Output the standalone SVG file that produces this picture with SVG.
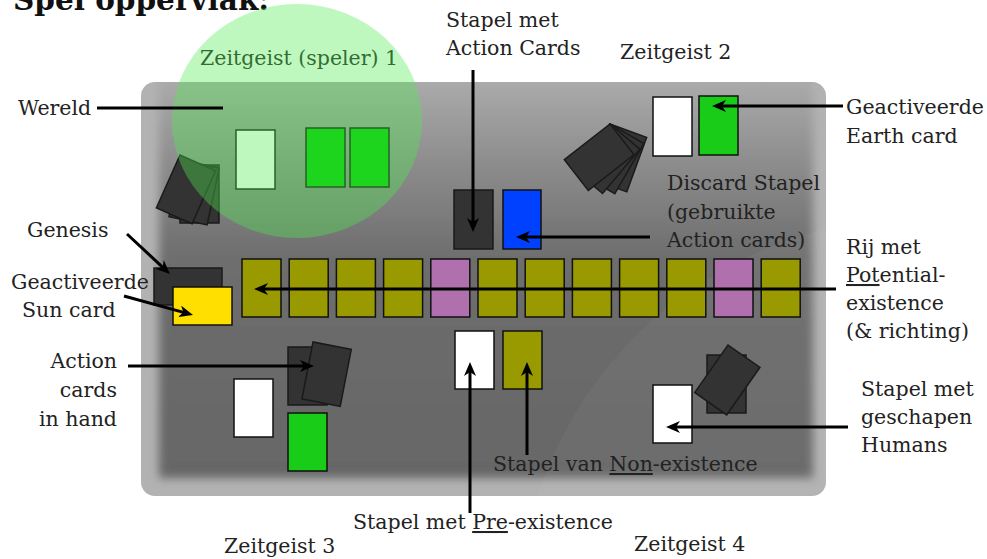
<svg xmlns="http://www.w3.org/2000/svg" width="987" height="559" viewBox="0 0 987 559">
<defs>
<style>
.t{font-family:"DejaVu Serif","Liberation Serif",serif;font-size:20.5px;fill:#222}
.title{font-family:"DejaVu Serif","Liberation Serif",serif;font-size:29.5px;font-weight:bold;fill:#111}
.card{stroke:#111;stroke-width:1.5}
.dark{fill:#333;stroke:#1a1a1a;stroke-width:1.5}
.white{fill:#fff}
.green{fill:#18cc18}
.olive{fill:#999900}
.pink{fill:#b070ad}
.conn{stroke:#000;stroke-width:3;fill:none}
.arr{marker-end:url(#ah)}
</style>
<marker id="ah" markerUnits="userSpaceOnUse" markerWidth="14" markerHeight="12" viewBox="0 0 14 12" refX="6" refY="6" orient="auto"><path d="M0,0 L14,6 L0,12 L4,6 z" fill="#000"/></marker>
<linearGradient id="gIn" x1="0" y1="82" x2="0" y2="496" gradientUnits="userSpaceOnUse">
<stop offset="0" stop-color="#aaaaaa"/>
<stop offset="0.2" stop-color="#8c8c8c"/>
<stop offset="0.42" stop-color="#6e6e6e"/>
<stop offset="1" stop-color="#656565"/>
</linearGradient>
<filter id="blur" x="-5%" y="-5%" width="110%" height="110%"><feGaussianBlur stdDeviation="5"/></filter>
<clipPath id="boardClip"><rect x="141" y="82" width="685" height="414" rx="14"/></clipPath>
</defs>

<text class="title" x="13" y="10">Spel oppervlak:</text>

<g id="board">
<rect x="141" y="82" width="685" height="414" rx="14" fill="#b2b2b2"/>
<g clip-path="url(#boardClip)">
<rect x="159" y="60" width="654" height="418" fill="url(#gIn)" filter="url(#blur)"/>
<circle cx="920" cy="620" r="402" fill="#fff" opacity="0.035"/>
</g>
</g>

<g id="zeitgeist1">
<g id="z1-fan">
<rect class="dark" x="180" y="165" width="39" height="58"/>
<rect class="dark" x="181" y="160" width="39" height="58" transform="rotate(12 181 160)"/>
<rect class="dark" x="180" y="155" width="39" height="58" transform="rotate(24 180 155)"/>
</g>
<rect class="card white" x="236" y="130" width="39" height="59"/>
<rect class="card" fill="#00c800" x="306" y="128" width="39" height="59"/>
<rect class="card" fill="#00c800" x="350" y="128" width="39" height="59"/>
<text class="t" x="200" y="65" fill="#1a1a1a">Zeitgeist (speler) 1</text>
<ellipse cx="297" cy="121" rx="125" ry="117" fill="#52ec52" opacity="0.37"/>
</g>

<g id="zeitgeist2">
<g id="z2-fan">
<rect class="dark" x="610" y="124" width="39" height="58" transform="rotate(20 610 124)"/>
<rect class="dark" x="610" y="124" width="39" height="58" transform="rotate(30 610 124)"/>
<rect class="dark" x="610" y="124" width="39" height="58" transform="rotate(40 610 124)"/>
<rect class="dark" x="610" y="124" width="39" height="58" transform="rotate(52 610 124)"/>
</g>
<rect class="card white" x="653" y="97" width="39" height="59"/>
<rect class="card green" x="699" y="96" width="39" height="59"/>
<text class="t" x="620" y="59">Zeitgeist 2</text>
</g>

<g id="action-stack">
<rect class="dark" x="454" y="190" width="39" height="59"/>
</g>
<g id="discard-stack">
<rect class="card" fill="#0040ff" x="503" y="190" width="38" height="59"/>
</g>

<g id="genesis">
<rect class="dark" x="154" y="268" width="68" height="37"/>
</g>
<g id="sun-card">
<rect class="card" fill="#ffdf00" x="173" y="287" width="59" height="38"/>
</g>

<g id="potential-row">
<rect class="card olive" x="242" y="259" width="39" height="58"/>
<rect class="card olive" x="289.2" y="259" width="39" height="58"/>
<rect class="card olive" x="336.4" y="259" width="39" height="58"/>
<rect class="card olive" x="383.6" y="259" width="39" height="58"/>
<rect class="card pink" x="430.8" y="259" width="39" height="58"/>
<rect class="card olive" x="478" y="259" width="39" height="58"/>
<rect class="card olive" x="525.2" y="259" width="39" height="58"/>
<rect class="card olive" x="572.4" y="259" width="39" height="58"/>
<rect class="card olive" x="619.6" y="259" width="39" height="58"/>
<rect class="card olive" x="666.8" y="259" width="39" height="58"/>
<rect class="card pink" x="714" y="259" width="39" height="58"/>
<rect class="card olive" x="761.2" y="259" width="39" height="58"/>
</g>

<g id="zeitgeist3">
<rect class="card white" x="234" y="379" width="39" height="58"/>
<rect class="dark" x="288" y="347" width="39" height="58"/>
<rect class="dark" x="313" y="342" width="39" height="58" transform="rotate(11 313 342)"/>
<rect class="card green" x="288" y="413" width="39" height="58"/>
<text class="t" x="224" y="553">Zeitgeist 3</text>
</g>

<g id="pre-existence">
<rect class="card white" x="455" y="331" width="39" height="58"/>
</g>
<g id="non-existence">
<rect class="card olive" x="503" y="331" width="39" height="58"/>
</g>

<g id="zeitgeist4">
<rect class="card white" x="653" y="385" width="39" height="58"/>
<rect class="dark" x="707" y="355" width="39" height="58"/>
<rect class="dark" x="728" y="345" width="39" height="58" transform="rotate(35 728 345)"/>
<text class="t" x="634" y="551">Zeitgeist 4</text>
</g>

<g id="connectors">
<line class="conn" x1="97" y1="108" x2="223" y2="108"/>
<line class="conn arr" x1="473" y1="70" x2="473" y2="224"/>
<line class="conn arr" x1="843" y1="106" x2="720" y2="106"/>
<line class="conn arr" x1="650" y1="237" x2="524" y2="237"/>
<line class="conn arr" x1="127" y1="234" x2="164.1" y2="268.6"/>
<line class="conn arr" x1="124" y1="296" x2="185.3" y2="312.9"/>
<line class="conn arr" x1="836" y1="289" x2="262" y2="289"/>
<line class="conn arr" x1="128" y1="366" x2="306" y2="366"/>
<line class="conn arr" x1="470" y1="513" x2="470" y2="370"/>
<line class="conn arr" x1="527" y1="455" x2="527" y2="370"/>
<line class="conn arr" x1="848" y1="427" x2="674" y2="427"/>
</g>

<g id="labels">
<text class="t" x="18" y="115">Wereld</text>
<text class="t" x="446" y="27">Stapel met</text>
<text class="t" x="446" y="55">Action Cards</text>
<text class="t" x="846" y="114">Geactiveerde</text>
<text class="t" x="846" y="143">Earth card</text>
<text class="t" x="667" y="190">Discard Stapel</text>
<text class="t" x="667" y="219">(gebruikte</text>
<text class="t" x="667" y="247">Action cards)</text>
<text class="t" x="27" y="237">Genesis</text>
<text class="t" x="11" y="289">Geactiveerde</text>
<text class="t" x="22" y="317">Sun card</text>
<text class="t" x="117" y="368" text-anchor="end">Action</text>
<text class="t" x="117" y="397" text-anchor="end">cards</text>
<text class="t" x="117" y="426" text-anchor="end">in hand</text>
<text class="t" x="846" y="254">Rij met</text>
<text class="t" x="846" y="282"><tspan text-decoration="underline">Pot</tspan>ential-</text>
<text class="t" x="846" y="310">existence</text>
<text class="t" x="846" y="338">(&amp; richting)</text>
<text class="t" x="861" y="396">Stapel met</text>
<text class="t" x="861" y="424">geschapen</text>
<text class="t" x="861" y="452">Humans</text>
<text class="t" x="493" y="471">Stapel van <tspan text-decoration="underline">Non</tspan>-existence</text>
<text class="t" x="353" y="529">Stapel met <tspan text-decoration="underline">Pre</tspan>-existence</text>
</g>
</svg>
